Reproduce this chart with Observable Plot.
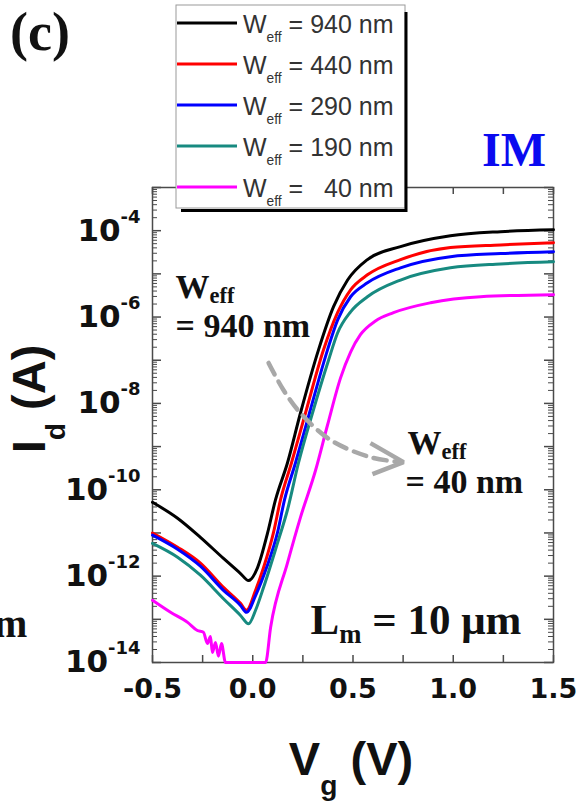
<!DOCTYPE html>
<html><head><meta charset="utf-8">
<script src="https://cdn.jsdelivr.net/npm/d3@7"></script>
<script src="https://cdn.jsdelivr.net/npm/@observablehq/plot@0.6"></script>
<style>body{margin:0;background:#fff} svg{display:block}</style>
</head><body><div id="chart"></div>
<script>
// ---- data ----
const seriesLabels = ["W_{eff} = 940 nm", "W_{eff} = 440 nm", "W_{eff} = 290 nm", "W_{eff} = 190 nm", "W_{eff} =   40 nm"];
const seriesColors = ["#000000", "#ff0000", "#0000ff", "#178a80", "#ff00ff"];

const vg940 = [-0.5, -0.375, -0.261, -0.146, -0.061, -0.021, 0.024, 0.074, 0.113, 0.173, 0.238, 0.328, 0.403, 0.473, 0.572, 0.737, 0.986, 1.236, 1.5];
const id940 = [5.13e-11, 2.19e-11, 7.9e-12, 2.57e-12, 1.15e-12, 7.9e-13, 1.58e-12, 1.0e-11, 5.75e-11, 4.17e-10, 6.0e-9, 1.74e-7, 1.74e-6, 7.2e-6, 2.14e-5, 4.27e-5, 7.6e-5, 9.5e-5, 1.05e-4];

const vg440 = [-0.5, -0.375, -0.261, -0.146, -0.061, -0.031, 0.014, 0.054, 0.103, 0.138, 0.193, 0.263, 0.353, 0.423, 0.488, 0.572, 0.737, 0.986, 1.236, 1.5];
const id440 = [1.0e-11, 4.68e-12, 2.0e-12, 5.5e-13, 2.34e-13, 1.62e-13, 4.68e-13, 1.58e-12, 1.0e-11, 5.75e-11, 4.17e-10, 6.0e-9, 1.74e-7, 1.26e-6, 4.27e-6, 9.5e-6, 2.14e-5, 4.07e-5, 4.68e-5, 5.25e-5];

const vg290 = [-0.5, -0.375, -0.261, -0.146, -0.061, -0.031, 0.014, 0.069, 0.123, 0.158, 0.213, 0.283, 0.373, 0.423, 0.488, 0.572, 0.737, 0.986, 1.236, 1.5];
const id290 = [8.9e-12, 4.2e-12, 1.7e-12, 4.7e-13, 2.1e-13, 1.45e-13, 3.55e-13, 1.58e-12, 1.0e-11, 5.75e-11, 4.17e-10, 6.0e-9, 1.74e-7, 8.5e-7, 2.95e-6, 6.2e-6, 1.38e-5, 2.5e-5, 2.95e-5, 3.25e-5];

const vg190 = [-0.5, -0.375, -0.261, -0.146, -0.061, -0.021, 0.014, 0.054, 0.123, 0.173, 0.228, 0.298, 0.378, 0.423, 0.488, 0.572, 0.737, 0.986, 1.236, 1.5];
const id190 = [5.75e-12, 2.75e-12, 1.05e-12, 3.0e-13, 1.23e-13, 7.9e-14, 1.62e-13, 5.5e-13, 5.75e-12, 3.4e-11, 4.17e-10, 6.0e-9, 1.0e-7, 4.27e-7, 1.32e-6, 2.95e-6, 7.2e-6, 1.38e-5, 1.7e-5, 1.9e-5];

const vg40 = [-0.5, -0.41, -0.325, -0.276, -0.246, -0.226, -0.211, -0.201, -0.186, -0.171, -0.156, -0.136, 0.064, 0.089, 0.173, 0.238, 0.313, 0.373, 0.438, 0.488, 0.537, 0.612, 0.702, 0.887, 1.136, 1.5];
const id40 = [2.75e-13, 1.45e-13, 8.5e-14, 5.5e-14, 5.0e-14, 2.75e-14, 4.0e-14, 1.7e-14, 2.9e-14, 1.4e-14, 2.75e-14, 1e-14, 1e-14, 6.5e-14, 2.0e-12, 2.3e-11, 2.8e-10, 3.16e-9, 3.9e-8, 1.55e-7, 3.9e-7, 8.1e-7, 1.26e-6, 2.14e-6, 2.95e-6, 3.3e-6];

const vgSeries = [vg940, vg440, vg290, vg190, vg40];
const idSeries = [id940, id440, id290, id190, id40];

// axis ticks
const xTickLabels = [-0.5, 0, 0.5, 1.0, 1.5];
const xAllTicks = [-0.5, -0.25, 0, 0.25, 0.5, 0.75, 1.0, 1.25, 1.5];
const yLabelExps = [-14, -12, -10, -8, -6, -4];
const yDecades = d3.range(-14, -2).map(e => 10 ** e);
const yMinor = d3.range(-14, -3).flatMap(e => d3.range(2, 10).map(k => k * 10 ** e));

// annotations (data coordinates)
const arrowV = [0.079, 0.153, 0.238, 0.388, 0.587, 0.737];
const arrowI = [8.65e-8, 2.05e-8, 5.98e-9, 1.42e-9, 5.7e-10, 4.37e-10];
const headV = [0.587, 0.752, 0.597];
const headI = [1.2e-9, 4.37e-10, 2.3e-10];
const annText = ["W_{eff}", "= 940 nm", "W_{eff}", "= 40 nm"];
const annV = [-0.385, -0.385, 0.772, 0.762];
const annI = [5.0e-6, 6.25e-7, 1.2e-9, 1.5e-10];
const lmText = ["L_{m} = 10 μm"];
const lmV = [0.288];
const lmI = [9.3e-14];

// ---- build tables ----
const rows = [];
vgSeries.forEach((vs, k) => vs.forEach((v, j) => rows.push({v, i: idSeries[k][j], s: k, color: seriesColors[k]})));
const arrowRows = arrowV.map((v, j) => ({v, i: arrowI[j]}));
const headRows = headV.map((v, j) => ({v, i: headI[j]}));
const annRows = annText.map((t, j) => ({t, v: annV[j], i: annI[j]}));
const lmRows = lmText.map((t, j) => ({t, v: lmV[j], i: lmI[j]}));

const W = 586, H = 806, mL = 152, mR = 33, mT = 187, mB = 144;
const pw = W - mL - mR, ph = H - mT - mB;
const frameColor = "#4a4a4a";
const serif = "'Liberation Serif', 'Times New Roman', serif";
const sans = "'Liberation Sans', Arial, sans-serif";
const dejavu = "'DejaVu Sans', sans-serif";

const plot = Plot.plot({
  width: W, height: H,
  marginLeft: mL, marginRight: mR, marginTop: mT, marginBottom: mB,
  style: {background: "transparent", overflow: "visible"},
  x: {domain: [-0.5, 1.5], axis: null},
  y: {type: "log", domain: [1e-14, 1e-3], axis: null},
  color: {type: "identity"},
  marks: [
    Plot.frame({stroke: frameColor, strokeWidth: 1.5}),
    Plot.tickX(xAllTicks, {x: d => d, insetTop: ph - 7, stroke: frameColor, strokeWidth: 1.5}),
    Plot.tickX(xAllTicks, {x: d => d, insetBottom: ph - 7, stroke: frameColor, strokeWidth: 1.5}),
    Plot.tickY(yDecades, {y: d => d, insetRight: pw - 9, stroke: frameColor, strokeWidth: 1.5}),
    Plot.tickY(yDecades, {y: d => d, insetLeft: pw - 9, stroke: frameColor, strokeWidth: 1.5}),
    Plot.tickY(yMinor, {y: d => d, insetRight: pw - 5, stroke: frameColor, strokeWidth: 1}),
    Plot.tickY(yMinor, {y: d => d, insetLeft: pw - 5, stroke: frameColor, strokeWidth: 1}),
    Plot.line(rows, {x: "v", y: "i", z: "s", stroke: "color", strokeWidth: 3, curve: "monotone-x"}),
    Plot.line(arrowRows, {x: "v", y: "i", curve: "catmull-rom", stroke: "#a8a8a8", strokeWidth: 4.5, strokeDasharray: "13,8"}),
    Plot.line(headRows, {x: "v", y: "i", stroke: "#a8a8a8", strokeWidth: 4.5, strokeLinejoin: "miter", strokeLinecap: "butt"}),
    Plot.text(xTickLabels, {x: d => d, frameAnchor: "bottom", dy: 35, text: d => d.toFixed(1),
      fontSize: 27, fontFamily: dejavu, fontWeight: "bold", fill: "#111"}),
    Plot.text(yLabelExps, {y: e => 10 ** e, frameAnchor: "left", dx: -12, textAnchor: "end", text: e => `10^{${e}}`,
      fontSize: 31, fontFamily: dejavu, fontWeight: "bold", fill: "#111", className: "ylab"}),
    Plot.text(annRows, {x: "v", y: "i", text: "t", textAnchor: "start", fontSize: 34, fontFamily: serif,
      fontWeight: "bold", fill: "#111", className: "ann"}),
    Plot.text(lmRows, {x: "v", y: "i", text: "t", textAnchor: "start", fontSize: 43, fontFamily: serif,
      fontWeight: "bold", fill: "#111", className: "lm"})
  ]
});
document.getElementById("chart").appendChild(plot);

function richify(nodes, {subScale = 0.6, subShift = 0.3, supScale = 0.6, supShift = 0.5} = {}) {
  nodes.forEach(t => {
    const s = t.textContent;
    if (!/[_^]\{/.test(s)) return;
    const fs = parseFloat(getComputedStyle(t).fontSize);
    while (t.firstChild) t.removeChild(t.firstChild);
    const re = /([_^])\{([^}]*)\}/g;
    let last = 0, m, cur = 0;
    const add = (txt, size, dy) => {
      const ts = document.createElementNS("http://www.w3.org/2000/svg", "tspan");
      if (size) ts.setAttribute("font-size", size);
      if (dy) ts.setAttribute("dy", dy);
      ts.textContent = txt;
      t.appendChild(ts);
    };
    while ((m = re.exec(s))) {
      if (m.index > last) { add(s.slice(last, m.index), null, -cur); cur = 0; }
      const sub = m[1] === "_";
      const target = sub ? subShift * fs : -supShift * fs;
      add(m[2], fs * (sub ? subScale : supScale), target - cur);
      cur = target;
      last = re.lastIndex;
    }
    if (last < s.length) add(s.slice(last), null, -cur);
  });
}

const svg = d3.select(plot);
richify(plot.querySelectorAll(".ylab text"), {supScale: 0.58, supShift: 0.58});
richify(plot.querySelectorAll(".ann text"), {subScale: 0.66, subShift: 0.16});
richify(plot.querySelectorAll(".lm text"), {subScale: 0.62, subShift: 0.2});

// axis titles
const xt = svg.append("text").attr("x", 351).attr("y", 775).attr("text-anchor", "middle")
  .attr("font-family", sans).attr("font-weight", "bold").attr("font-size", 47).attr("fill", "#111").text("V_{g} (V)");
const yt = svg.append("text").attr("transform", "translate(45,399) rotate(-90)").attr("text-anchor", "middle")
  .attr("font-family", sans).attr("font-weight", "bold").attr("font-size", 47).attr("fill", "#111").text("I_{d} (A)");
richify([xt.node(), yt.node()], {subScale: 0.6, subShift: 0.42});

// panel labels
svg.append("text").attr("x", 10).attr("y", 50).attr("text-anchor", "start").attr("font-family", serif).attr("font-weight", "bold")
  .attr("font-size", 54).attr("fill", "#111").text("(c)");
svg.append("text").attr("x", 482).attr("y", 166).attr("text-anchor", "start").attr("font-family", serif).attr("font-weight", "bold")
  .attr("font-size", 48).attr("fill", "#0a0af0").text("IM");
svg.append("text").attr("x", -6).attr("y", 637).attr("text-anchor", "start").attr("font-family", serif).attr("font-weight", "bold")
  .attr("font-size", 40).attr("fill", "#111").text("m");

// legend
const lg = svg.append("g");
lg.append("rect").attr("x", 176).attr("y", 5).attr("width", 229).attr("height", 203)
  .attr("fill", "#fff").attr("stroke", "#9a9a9a").attr("stroke-width", 1);
lg.append("path").attr("d", "M406,12V210.5H181").attr("fill", "none").attr("stroke", "#000").attr("stroke-width", 3);
const legendTexts = [];
seriesLabels.forEach((lab, k) => {
  const cy = 23 + k * 41;
  lg.append("line").attr("x1", 177).attr("x2", 237).attr("y1", cy).attr("y2", cy)
    .attr("stroke", seriesColors[k]).attr("stroke-width", 3);
  const t = lg.append("text").attr("x", 243).attr("y", cy + 10).attr("text-anchor", "start").attr("font-family", sans)
    .attr("font-size", 25).attr("fill", "#333").style("white-space", "pre").text(lab);
  legendTexts.push(t.node());
});
richify(legendTexts, {subScale: 0.55, subShift: 0.36});
</script>
</body></html>
